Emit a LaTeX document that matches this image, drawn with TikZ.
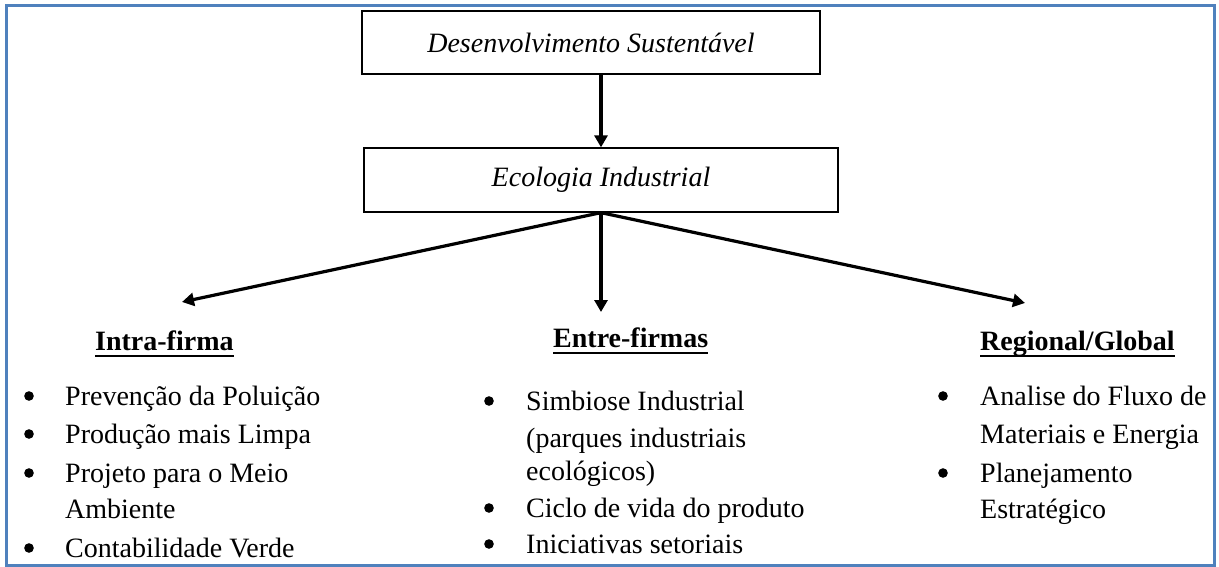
\documentclass[tikz,border=0pt]{standalone}
\usepackage{fontspec}
\setmainfont{Liberation Serif}
\usetikzlibrary{arrows.meta}
\definecolor{frameblue}{RGB}{79,129,189}
\tikzset{
  box/.style={draw=black, line width=1.8pt, inner sep=0pt, font=\itshape},
  txt/.style={anchor=base west, inner sep=0pt},
  head/.style={anchor=base west, inner sep=0pt, font=\bfseries},
  bul/.style={circle, draw=black, fill=black, line width=1pt, inner sep=0pt, minimum size=8.5pt},
  arr/.style={line width=3.2pt, -{Triangle[length=12pt,width=13pt]}},
  uline/.style={line width=2.8pt}
}
\begin{document}
\begin{tikzpicture}[x=1pt,y=-1pt]
\fontsize{28}{34}\selectfont
\useasboundingbox (0,0) rectangle (1219,567);
% frame
\draw[frameblue, line width=3pt] (6.5,5.5) -- (1214.5,5.5) -- (1214.5,565.5) -- (6.5,565.5) -- cycle;
% boxes
\node[box, minimum width=458pt, minimum height=63pt] (ds) at (591,42.5) {Desenvolvimento Sustentável};
\node[box, line width=1.3pt, minimum width=474pt, minimum height=64pt] (ei) at (601,180) {Ecologia Industrial};
\draw[arr] (ei.north |- ds.south) -- (ei.north);
% arrow targets
\coordinate (tl) at (182,302);
\coordinate (tc) at (601,312);
\coordinate (tr) at (1025,303);
\draw[arr] (ei.south) -- (tl);
\draw[arr] (ei.south) -- (tc);
\draw[arr] (ei.south) -- (tr);
% headings
\node[head] (h1) at (95,350) {Intra-firma};
\node[head] (h2) at (553,347) {Entre-firmas};
\node[head] (h3) at (980,350) {Regional/Global};
\foreach \h in {h1,h2,h3}{
  \draw[uline] ([yshift=-6pt]\h.base west) -- ([yshift=-6pt]\h.base east);
}
% left column
\node[bul] (b11) at (29,396) {};
\node[txt] (l11) at (65,405) {Prevenção da Poluição};
\node[bul] (b12) at (29,434) {};
\node[txt] (l12) at (65,443) {Produção mais Limpa};
\node[bul] (b13) at (29,473) {};
\node[txt] (l13) at (65,482) {Projeto para o Meio};
\node[txt] (l14) at (65,518) {Ambiente};
\node[bul] (b15) at (29,548) {};
\node[txt] (l15) at (65,557) {Contabilidade Verde};
% center column
\node[bul] (b21) at (489,401) {};
\node[txt] (l21) at (526,410) {Simbiose Industrial};
\node[txt] (l22) at (526,447) {(parques industriais};
\node[txt] (l23) at (526,480) {ecológicos)};
\node[bul] (b24) at (489,508) {};
\node[txt] (l24) at (526,517) {Ciclo de vida do produto};
\node[bul] (b25) at (489,544) {};
\node[txt] (l25) at (526,553) {Iniciativas setoriais};
% right column
\node[bul] (b31) at (943,396) {};
\node[txt] (l31) at (980,405) {Analise do Fluxo de};
\node[txt] (l32) at (980,443) {Materiais e Energia};
\node[bul] (b33) at (943,473) {};
\node[txt] (l33) at (980,482) {Planejamento};
\node[txt] (l34) at (980,518) {Estratégico};
\end{tikzpicture}
\end{document}
